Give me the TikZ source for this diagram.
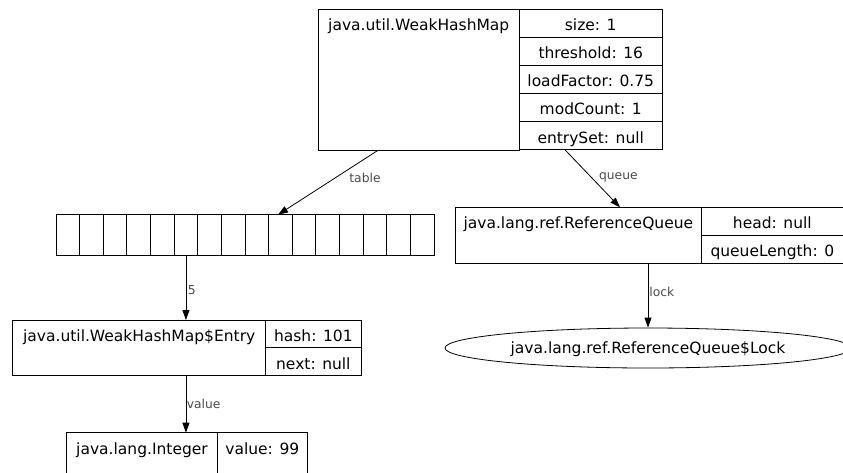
\documentclass[tikz,border=0pt]{standalone}
\usepackage{fontspec}
\setmainfont{DejaVu Sans}
\usetikzlibrary{positioning, shapes.geometric, arrows.meta}
\definecolor{labelgray}{HTML}{4A4A4A}
\newcommand{\objfont}{\fontsize{15.5}{17}\selectfont}
\newcommand{\lblfont}{\fontsize{12.3}{14}\selectfont}
\tikzset{cell/.style = {draw, rectangle, inner sep=0pt, outer sep=0pt, anchor=north west, line width=0.8pt,
                        text height=15pt, text depth=0.5pt, font=\objfont},
         field/.style = {cell, minimum width=#1, minimum height=28.1pt},
         slot/.style = {draw, rectangle, inner sep=0pt, outer sep=0pt, anchor=north west, line width=0.8pt,
                        minimum width=23.625pt, minimum height=40.6pt},
         objname/.style = {inner sep=0pt, text height=15pt, text depth=0.5pt, font=\objfont},
         ref/.style = {draw, line width=0.8pt, -{Triangle[length=10pt,width=7pt]}},
         lbl/.style = {inner sep=0pt, text=labelgray, font=\lblfont}}

\begin{document}
\begin{tikzpicture}[x=1pt, y=-1pt]
    \useasboundingbox (0,0) rectangle (843,472);
    \clip (0,0) rectangle (843,472);

    \node[cell, minimum width=200.5pt, minimum height=141pt] (map) at (318.5,9.3) {};
    \node[objname] (mapname) at ([yshift=-14.1pt]map.north) {java.util.WeakHashMap};
    \node[field=143.5pt] (mapsize) at (map.north east) {size: 1};
    \node[field=143.5pt] (mapthresh) at (mapsize.south west) {threshold: 16};
    \node[field=143.5pt] (mapload) at (mapthresh.south west) {loadFactor: 0.75};
    \node[field=143.5pt] (mapmod) at (mapload.south west) {modCount: 1};
    \node[field=143.5pt] (mapentry) at (mapmod.south west) {entrySet: null};

    \foreach \i in {0,...,15}
        \node[slot] (slot\i) at ({56+23.625*\i},214.7) {};

    \node[cell, minimum width=246.7pt, minimum height=56pt] (rq) at (455,207.3) {};
    \node[objname] (rqname) at ([yshift=-14pt]rq.north) {java.lang.ref.ReferenceQueue};
    \node[field=141.3pt] (rqhead) at (rq.north east) {head: null};
    \node[field=141.3pt] (rqlen) at (rqhead.south west) {queueLength: 0};

    \node[draw, ellipse, line width=0.8pt, inner sep=0pt, minimum width=406pt, minimum height=40pt,
          text height=12pt, text depth=2pt, font=\objfont] (lock) at (648,348) {java.lang.ref.ReferenceQueue\$Lock};

    \node[cell, minimum width=253pt, minimum height=55.7pt] (entry) at (12.7,320) {};
    \node[objname] (entryname) at ([yshift=-14pt]entry.north) {java.util.WeakHashMap\$Entry};
    \node[field=95.3pt, minimum height=27.85pt] (entryhash) at (entry.north east) {hash: 101};
    \node[field=95.3pt, minimum height=27.85pt] (entrynext) at (entryhash.south west) {next: null};

    \node[cell, minimum width=150.6pt, minimum height=56pt] (int) at (66.7,432.7) {};
    \node[objname] (intname) at ([yshift=-14.1pt]int.north) {java.lang.Integer};
    \node[cell, minimum width=90pt, minimum height=56pt] (intvalue) at (int.north east) {};
    \node[objname] (intvaluetext) at ([yshift=-14.1pt]intvalue.north) {value: 99};

    \draw[ref] ([xshift=-40.75pt]map.south) -- ([xshift=-2.4pt]slot9.north)
        node[lbl, pos=0.43, right=14pt] {table};
    \draw[ref] ([xshift=-25.75pt]mapentry.south) -- ([xshift=41.65pt]rq.north)
        node[lbl, pos=0.486, right=7pt] {queue};
    \draw[ref] (lock.north |- rq.south) -- (lock.north)
        node[lbl, pos=0.44, right=1pt] {lock};
    \draw[ref] (slot5.south) -- (slot5.south |- entry.north)
        node[lbl, pos=0.54, right=1.5pt] {5};
    \draw[ref] (slot5.south |- entry.south) -- (slot5.south |- int.north)
        node[lbl, pos=0.5, right=0.5pt] {value};
\end{tikzpicture}
\end{document}
